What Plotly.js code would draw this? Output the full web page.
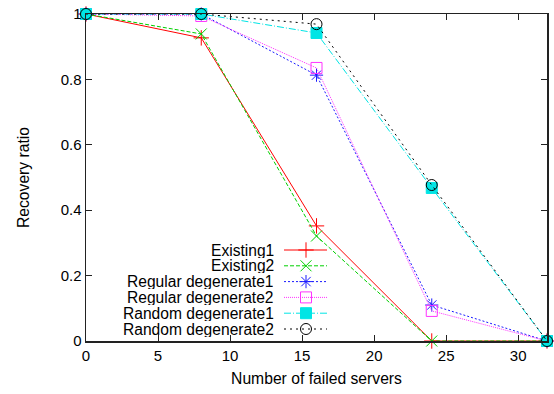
<!DOCTYPE html>
<html>
<head>
<meta charset="utf-8">
<script src="https://cdn.plot.ly/plotly-3.0.1.min.js"></script>
<style>html,body{margin:0;padding:0;background:#fff;}#chart{width:554px;height:394px;}</style>
</head>
<body>
<div id="chart"></div>
<script>
const failedServers = [0, 8, 16, 24, 32];
const seriesNames = ["Existing1", "Existing2", "Regular degenerate1", "Regular degenerate2", "Random degenerate1", "Random degenerate2"];
const existing1 = [1, 0.927, 0.352, 0, 0];
const existing2 = [1, 0.939, 0.321, 0, 0];
const regular1 = [1, 1, 0.813, 0.11, 0];
const regular2 = [1, 0.994, 0.835, 0.092, 0];
const random1 = [1, 1, 0.942, 0.468, 0];
const random2 = [1, 1, 0.969, 0.477, 0];
const xTicks = [0, 5, 10, 15, 20, 25, 30];
const yTicks = [0, 0.2, 0.4, 0.6, 0.8, 1];
const yTickLabels = ["0", "0.2", "0.4", "0.6", "0.8", "1"];

const values = [existing1, existing2, regular1, regular2, random1, random2];
const styles = [
  {color: "#ff0000", dash: "solid", symbol: "cross-thin-open", size: 11},
  {color: "#00d000", dash: "4px,2px", symbol: "x-thin-open", size: 11},
  {color: "#1a1aff", dash: "2px,2px", symbol: "asterisk-open", size: 11},
  {color: "#ff33ff", dash: "1px,1px", symbol: "square-open", size: 11},
  {color: "#00e5e5", dash: "7px,2px,1px,2px", symbol: "square", size: 11},
  {color: "#000000", dash: "2px,4px", symbol: "circle-open", size: 11}
];

const FONT = "Liberation Sans, Arial, sans-serif";
// plot box in pixels
const L = 86, R = 547, T = 14, B = 341;
const W = 554, H = 394;
// legend geometry (pixels)
const legTextRight = 275, legLineX0 = 284, legLineX1 = 327, legRow0 = 250, legRowStep = 15.8;

const traces = [];
values.forEach((v, i) => {
  const s = styles[i];
  traces.push({
    x: failedServers, y: v, type: "scatter", mode: "lines+markers", name: seriesNames[i],
    line: {color: s.color, width: 1, dash: s.dash},
    marker: {symbol: s.symbol, size: s.size, color: s.color, line: {color: s.color, width: 1}},
    cliponaxis: false, showlegend: false
  });
});
const annotations = [];
seriesNames.forEach((n, i) => {
  const s = styles[i];
  const yy = legRow0 + i * legRowStep;
  traces.push({
    x: [legLineX0, legLineX1], y: [yy, yy], xaxis: "x2", yaxis: "y2", type: "scatter", mode: "lines",
    line: {color: s.color, width: 1, dash: s.dash}, showlegend: false, hoverinfo: "skip"
  });
  traces.push({
    x: [(legLineX0 + legLineX1) / 2 + 0.5], y: [yy], xaxis: "x2", yaxis: "y2", type: "scatter", mode: "markers",
    marker: {symbol: s.symbol, size: s.size, color: s.color, line: {color: s.color, width: 1}},
    showlegend: false, hoverinfo: "skip", cliponaxis: false
  });
  annotations.push({
    text: n, xref: "paper", yref: "paper",
    x: (legTextRight - L) / (R - L), y: (B - yy) / (B - T),
    xanchor: "right", yanchor: "middle", showarrow: false,
    height: 15, valign: "middle", borderpad: 0,
    font: {family: FONT, size: 15.6, color: "#000"}
  });
});

const axisCommon = {
  showgrid: false, zeroline: false, showline: true, linecolor: "#222", linewidth: 1.5,
  ticks: "inside", ticklen: 6, tickcolor: "#222", tickwidth: 1, mirror: "ticks",
  tickfont: {family: FONT, size: 15, color: "#000"}
};

const layout = {
  width: W, height: H,
  margin: {l: L, r: W - R, t: T, b: H - B, pad: 0},
  paper_bgcolor: "#fff", plot_bgcolor: "#fff",
  showlegend: false,
  xaxis: Object.assign({}, axisCommon, {
    range: [0, 32], tickmode: "array", tickvals: xTicks, ticktext: xTicks.map(String),
    title: {text: "Number of failed servers", standoff: 10, font: {family: FONT, size: 15.7, color: "#000"}}
  }),
  yaxis: Object.assign({}, axisCommon, {
    range: [0, 1], tickmode: "array", tickvals: yTicks, ticktext: yTickLabels,
    title: {text: "Recovery ratio", standoff: 27, font: {family: FONT, size: 15.7, color: "#000"}}
  }),
  xaxis2: {overlaying: "x", range: [L, R], visible: false, fixedrange: true},
  yaxis2: {overlaying: "y", range: [B, T], visible: false, fixedrange: true},
  annotations: annotations
};

Plotly.newPlot("chart", traces, layout, {displayModeBar: false, staticPlot: true});
</script>
</body>
</html>
